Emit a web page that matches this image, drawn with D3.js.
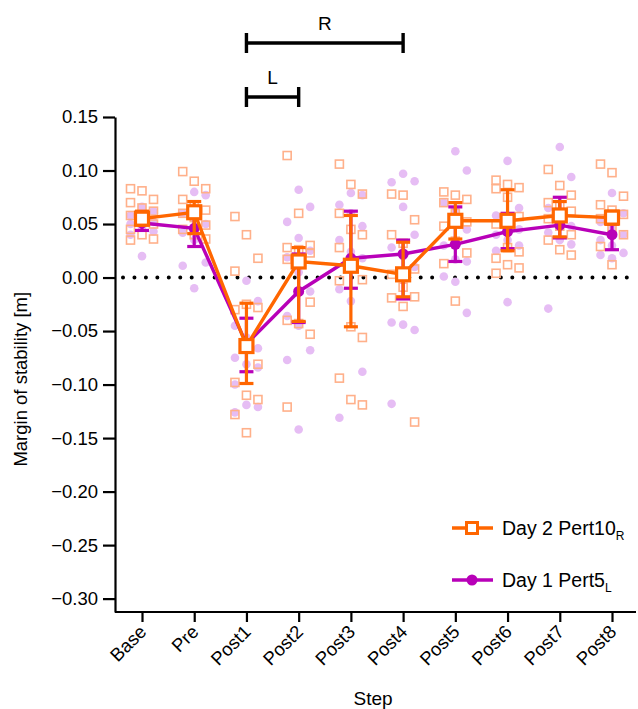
<!DOCTYPE html>
<html>
<head>
<meta charset="utf-8">
<script src="https://cdn.jsdelivr.net/npm/d3@7"></script>
<style>
  body { margin: 0; background: #fff; }
  svg { font-family: "Liberation Sans", Arial, sans-serif; }
</style>
</head>
<body>
<div id="chart"></div>
<script>
// categories and tick values
const steps = ['Base', 'Pre', 'Post1', 'Post2', 'Post3', 'Post4', 'Post5', 'Post6', 'Post7', 'Post8']
const yTicks = [0.15, 0.10, 0.05, 0.00, -0.05, -0.10, -0.15, -0.20, -0.25, -0.30]

// Day 2 Pert10 R (orange): mean and error bar ends
const day2Mean = [0.055, 0.061, -0.064, 0.015, 0.011, 0.003, 0.053, 0.053, 0.058, 0.056]
const day2Low = [0.049, 0.041, -0.099, -0.041, -0.046, -0.018, 0.036, 0.025, 0.038, 0.050]
const day2High = [0.062, 0.071, -0.024, 0.028, 0.058, 0.033, 0.070, 0.082, 0.071, 0.062]

// Day 1 Pert5 L (purple): mean and error bar ends
const day1Mean = [0.051, 0.046, -0.062, -0.013, 0.018, 0.022, 0.031, 0.043, 0.049, 0.040]
const day1Low = [0.044, 0.029, -0.088, -0.042, -0.010, -0.020, 0.015, 0.027, 0.037, 0.026]
const day1High = [0.056, 0.062, -0.038, 0.022, 0.062, 0.035, 0.066, 0.060, 0.075, 0.050]

// individual subjects, day 2
const day2Subjects = [
  [0.083, 0.081, 0.073, 0.070, 0.065, 0.062, 0.058, 0.053, 0.050, 0.045, 0.040, 0.036, 0.035],
  [0.099, 0.090, 0.083, 0.073, 0.068, 0.063, 0.060, 0.056, 0.049, 0.045, 0.040, 0.036],
  [0.057, 0.040, 0.018, 0.006, -0.025, -0.028, -0.030, -0.062, -0.081, -0.098, -0.110, -0.114, -0.128, -0.145],
  [0.114, 0.060, 0.030, 0.028, 0.026, 0.023, 0.017, 0.014, -0.023, -0.040, -0.043, -0.053, -0.121],
  [0.106, 0.087, 0.078, 0.060, 0.045, 0.040, 0.028, 0.011, -0.002, -0.003, -0.046, -0.056, -0.094, -0.114, -0.119],
  [0.078, 0.077, 0.054, 0.040, 0.032, 0.008, 0.003, -0.009, -0.018, -0.019, -0.027, -0.135],
  [0.080, 0.077, 0.073, 0.070, 0.060, 0.052, 0.048, 0.034, 0.023, 0.013, -0.022],
  [0.091, 0.087, 0.084, 0.083, 0.075, 0.057, 0.050, 0.028, 0.024, 0.018, 0.012, 0.009, 0.004],
  [0.101, 0.086, 0.077, 0.070, 0.068, 0.062, 0.055, 0.048, 0.040, 0.035, 0.026, 0.021],
  [0.106, 0.098, 0.076, 0.068, 0.063, 0.059, 0.055, 0.045, 0.040, 0.029, 0.012]
]

// individual subjects, day 1
const day1Subjects = [
  [0.066, 0.062, 0.058, 0.055, 0.052, 0.050, 0.047, 0.043, 0.040, 0.020],
  [0.080, 0.077, 0.060, 0.055, 0.050, 0.042, 0.035, 0.014, 0.011, -0.010],
  [-0.003, -0.022, -0.045, -0.056, -0.066, -0.075, -0.081, -0.084, -0.100, -0.119, -0.121, -0.126],
  [0.082, 0.066, 0.052, 0.037, 0.025, 0.019, 0.005, -0.013, -0.036, -0.045, -0.068, -0.077, -0.142],
  [0.079, 0.077, 0.068, 0.060, 0.048, 0.035, 0.024, 0.018, -0.011, -0.022, -0.088, -0.131],
  [0.097, 0.090, 0.089, 0.066, 0.040, 0.028, 0.020, 0.010, -0.042, -0.044, -0.049, -0.118],
  [0.118, 0.100, 0.070, 0.063, 0.045, 0.030, 0.017, 0.015, 0.001, -0.004, -0.033],
  [0.109, 0.065, 0.058, 0.050, 0.045, 0.040, 0.035, 0.030, 0.025, -0.023],
  [0.122, 0.094, 0.065, 0.055, 0.048, 0.042, 0.035, 0.031, -0.029],
  [0.079, 0.060, 0.052, 0.045, 0.040, 0.035, 0.030, 0.023, 0.021, 0.018]
]

const ORANGE = '#ff6600'
const ORANGE_LIGHT = '#ffb08a'
const PURPLE = '#b800b8'
const PURPLE_LIGHT = '#e6bdf4'

const width = 638
const height = 709

const svg = d3.select('#chart')
  .append('svg')
  .attr('width', width)
  .attr('height', height)

const x = d3.scalePoint().domain(steps).range([142, 612])
const y = d3.scaleLinear().domain([-0.3125, 0.15]).range([612, 117])
const axisLeftX = 115

// y axis
const yAxis = svg.append('g')
  .attr('transform', 'translate(' + axisLeftX + ',0)')
  .call(d3.axisLeft(y).tickValues(yTicks).tickSize(12).tickSizeOuter(0)
    .tickFormat(d => d3.format('.2f')(d).replace('-', '\u2212')))
yAxis.select('.domain').attr('stroke-width', 2.2)
yAxis.selectAll('.tick line').attr('stroke-width', 2.2)
yAxis.selectAll('.tick text').attr('font-size', 18.5).attr('fill', '#000').attr('x', -17)

// x axis
const xAxis = svg.append('g')
  .attr('transform', 'translate(0,' + y(-0.3125) + ')')
  .call(d3.axisBottom(x).tickSize(10).tickSizeOuter(0))
xAxis.select('.domain').attr('d', 'M' + axisLeftX + ',0H' + 636).attr('stroke-width', 2.2)
xAxis.selectAll('.tick line').attr('stroke-width', 2.2)
xAxis.selectAll('.tick text')
  .attr('font-size', 18.5)
  .attr('fill', '#000')
  .attr('text-anchor', 'end')
  .attr('dy', 0)
  .attr('transform', 'translate(5,21) rotate(-45)')
  .attr('y', 0)
  .attr('x', 0)

// axis titles
svg.append('text')
  .attr('x', x('Post4') - 30)
  .attr('y', 705)
  .attr('text-anchor', 'middle')
  .attr('font-size', 19)
  .text('Step')

svg.append('text')
  .attr('transform', 'translate(27,' + y(-0.095) + ') rotate(-90)')
  .attr('text-anchor', 'middle')
  .attr('font-size', 18.5)
  .text('Margin of stability [m]')

// zero reference line
svg.append('line')
  .attr('x1', axisLeftX + 8)
  .attr('x2', 632)
  .attr('y1', y(0))
  .attr('y2', y(0))
  .attr('stroke', '#000')
  .attr('stroke-width', 4)
  .attr('stroke-linecap', 'round')
  .attr('stroke-dasharray', '0 11.45')

// jitter offset for individual subject markers
const jitter = i => ((i % 3) - 1) * 11.5

// day 1 subject dots
steps.forEach((s, k) => {
  svg.append('g').selectAll('circle')
    .data(day1Subjects[k]).join('circle')
    .attr('cx', (d, i) => x(s) + jitter(i + 1))
    .attr('cy', d => y(d))
    .attr('r', 4.3)
    .attr('fill', PURPLE_LIGHT)
})

// day 2 subject squares
steps.forEach((s, k) => {
  svg.append('g').selectAll('rect')
    .data(day2Subjects[k]).join('rect')
    .attr('x', (d, i) => x(s) + jitter(i) - 4)
    .attr('y', d => y(d) - 4)
    .attr('width', 8)
    .attr('height', 8)
    .attr('fill', 'none')
    .attr('stroke', ORANGE_LIGHT)
    .attr('stroke-width', 1.6)
})

function drawSeries (mean, low, high, color, marker) {
  const g = svg.append('g')
  g.append('path')
    .datum(mean)
    .attr('fill', 'none')
    .attr('stroke', color)
    .attr('stroke-width', 3.4)
    .attr('d', d3.line().x((d, i) => x(steps[i])).y(d => y(d)))

  const bars = g.selectAll('.err').data(steps).join('g')
  bars.append('line')
    .attr('x1', s => x(s)).attr('x2', s => x(s))
    .attr('y1', (s, i) => y(low[i])).attr('y2', (s, i) => y(high[i]))
    .attr('stroke', color).attr('stroke-width', 3.2)
  bars.append('line')
    .attr('x1', s => x(s) - 7).attr('x2', s => x(s) + 7)
    .attr('y1', (s, i) => y(low[i])).attr('y2', (s, i) => y(low[i]))
    .attr('stroke', color).attr('stroke-width', 3.2)
  bars.append('line')
    .attr('x1', s => x(s) - 7).attr('x2', s => x(s) + 7)
    .attr('y1', (s, i) => y(high[i])).attr('y2', (s, i) => y(high[i]))
    .attr('stroke', color).attr('stroke-width', 3.2)

  if (marker === 'square') {
    g.selectAll('.m').data(mean).join('rect')
      .attr('x', (d, i) => x(steps[i]) - 6.5)
      .attr('y', d => y(d) - 6.5)
      .attr('width', 13).attr('height', 13)
      .attr('fill', '#fff')
      .attr('stroke', color)
      .attr('stroke-width', 3.2)
  } else {
    g.selectAll('.m').data(mean).join('circle')
      .attr('cx', (d, i) => x(steps[i]))
      .attr('cy', d => y(d))
      .attr('r', 5.5)
      .attr('fill', color)
  }
}

drawSeries(day1Mean, day1Low, day1High, PURPLE, 'circle')
drawSeries(day2Mean, day2Low, day2High, ORANGE, 'square')

// perturbation spans above the plot
const spans = [
  { label: 'R', from: 'Post1', to: 'Post4', y: 43 },
  { label: 'L', from: 'Post1', to: 'Post2', y: 97 }
]
spans.forEach(sp => {
  const g = svg.append('g').attr('stroke', '#000').attr('stroke-width', 3.4)
  g.append('line').attr('x1', x(sp.from)).attr('x2', x(sp.to)).attr('y1', sp.y).attr('y2', sp.y)
  g.append('line').attr('x1', x(sp.from)).attr('x2', x(sp.from)).attr('y1', sp.y - 10).attr('y2', sp.y + 10)
  g.append('line').attr('x1', x(sp.to)).attr('x2', x(sp.to)).attr('y1', sp.y - 10).attr('y2', sp.y + 10)
  svg.append('text')
    .attr('x', (x(sp.from) + x(sp.to)) / 2)
    .attr('y', sp.y - 13)
    .attr('text-anchor', 'middle')
    .attr('font-size', 19)
    .text(sp.label)
})

// legend
const legend = [
  { name: 'Day 2 Pert10', sub: 'R', color: ORANGE, marker: 'square', y: 528 },
  { name: 'Day 1 Pert5', sub: 'L', color: PURPLE, marker: 'circle', y: 580 }
]
legend.forEach(l => {
  svg.append('line')
    .attr('x1', 452).attr('x2', 493).attr('y1', l.y).attr('y2', l.y)
    .attr('stroke', l.color).attr('stroke-width', 3.4)
  if (l.marker === 'square') {
    svg.append('rect')
      .attr('x', 466.5).attr('y', l.y - 5.5).attr('width', 11).attr('height', 11)
      .attr('fill', '#fff').attr('stroke', l.color).attr('stroke-width', 3)
  } else {
    svg.append('circle')
      .attr('cx', 472).attr('cy', l.y).attr('r', 5.5).attr('fill', l.color)
  }
  const t = svg.append('text')
    .attr('x', 502).attr('y', l.y + 7)
    .attr('font-size', 19.5)
    .text(l.name)
  t.append('tspan').attr('font-size', 12).attr('dy', 5).text(l.sub)
})
</script>
</body>
</html>
